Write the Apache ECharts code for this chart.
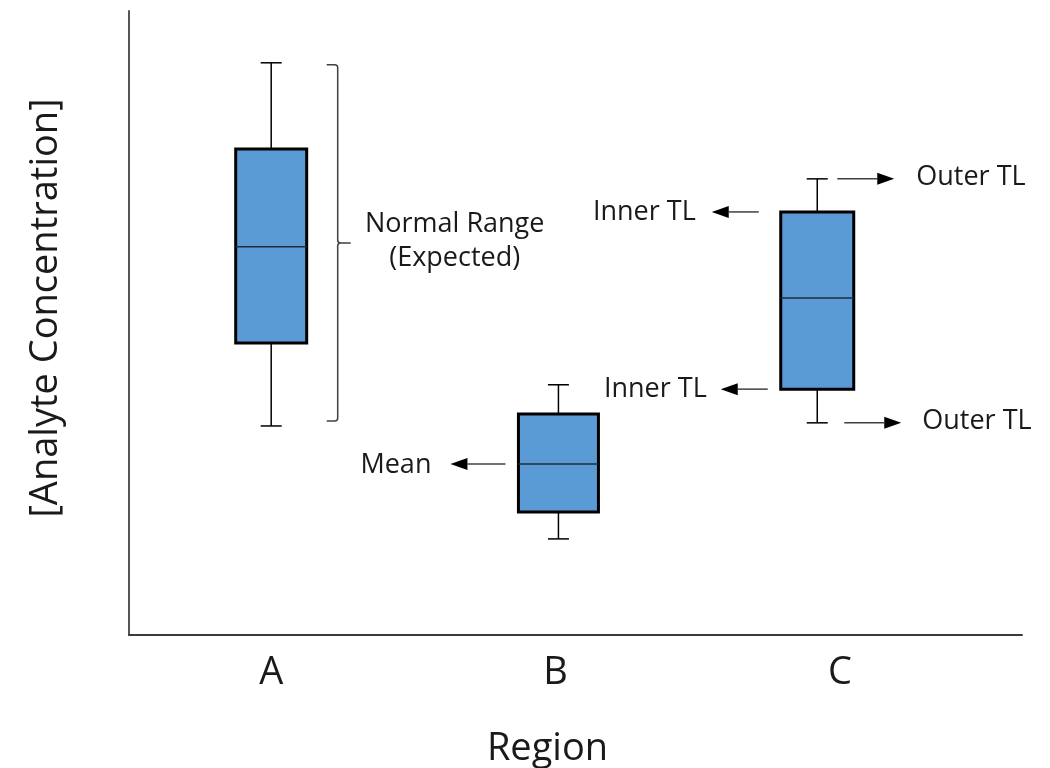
<!DOCTYPE html>
<html>
<head>
<meta charset="utf-8">
<script src="https://cdn.jsdelivr.net/npm/echarts@6/dist/echarts.min.js"></script>
<style>
  html, body { margin: 0; padding: 0; background: #ffffff; }
  #chart { width: 1050px; height: 768px; }
</style>
</head>
<body>
<div id="chart"></div>
<script>
// ---------------- DATA ----------------
const categories = ['A', 'B', 'C'];
const categoryPositions = [1, 2, 3];          // where the category labels sit on the x axis
const boxPositions = [1, 2.01, 2.92];          // where each box sits on the x axis
const whiskerMin = [33.5, 15.4, 34.0];
const q1Values   = [46.8, 19.7, 39.4];
const medians    = [62.2, 27.4, 54.0];
const q3Values   = [77.9, 35.4, 67.8];
const whiskerMax = [91.7, 40.1, 73.1];

const xAxisTitle = 'Region';
const yAxisTitle = '[Analyte Concentration]';
const bracketText = ['Normal Range', '(Expected)'];
const meanText = 'Mean';
const innerText = 'Inner TL';
const outerText = 'Outer TL';

// ---------------- STYLE ----------------
const FONT = '"Open Sans", "Noto Sans", sans-serif';
const BOX_FILL = '#5B9BD5';
const BOX_WIDTHS = [71, 80, 73];
const CAP_WIDTH = 21;
const ANNOT_FONT_SIZE = 27;

const boxData = categories.map((c, i) => [boxPositions[i], whiskerMin[i], q1Values[i], medians[i], q3Values[i], whiskerMax[i]]);

function arrow(x1, y, x2, children) {
  const dir = x2 > x1 ? 1 : -1;
  const headLen = 17, headHalf = 6;
  children.push({
    type: 'line',
    shape: { x1: x1, y1: y, x2: x2 - dir * headLen, y2: y },
    style: { stroke: '#404040', lineWidth: 1.5 }
  });
  children.push({
    type: 'polygon',
    shape: { points: [[x2, y], [x2 - dir * headLen, y - headHalf], [x2 - dir * headLen, y + headHalf]] },
    style: { fill: '#000' }
  });
}
function label(text, x, y, align, children) {
  children.push({
    type: 'text',
    style: { text: text, x: x, y: y, align: align, verticalAlign: 'middle',
             font: 'normal ' + ANNOT_FONT_SIZE + 'px ' + FONT, fill: '#1a1a1a' }
  });
}

const chart = echarts.init(document.getElementById('chart'), null, { renderer: 'canvas' });

const option = {
  animation: false,
  backgroundColor: '#ffffff',
  grid: { left: 129, right: 28, top: 11, bottom: 133, containLabel: false, outerBoundsMode: 'none' },
  xAxis: {
    type: 'value',
    min: 0.5,
    max: 3.64,
    name: xAxisTitle,
    nameLocation: 'middle',
    nameGap: 95,
    nameTextStyle: { fontFamily: FONT, fontSize: 38, color: '#1a1a1a', padding: [0, 56, 0, 0] },
    axisLine: { show: true, lineStyle: { color: '#3a3a3a', width: 2 } },
    axisTick: { show: false },
    splitLine: { show: false },
    axisLabel: {
      customValues: categoryPositions,
      formatter: function (v) {
        const idx = categoryPositions.indexOf(v);
        return idx >= 0 ? categories[idx] : '';
      },
      margin: 19,
      fontFamily: FONT,
      fontSize: 38,
      color: '#1a1a1a'
    }
  },
  yAxis: {
    type: 'value',
    min: 0,
    max: 100,
    name: yAxisTitle,
    nameLocation: 'middle',
    nameRotate: 90,
    nameGap: 64,
    nameTextStyle: { fontFamily: FONT, fontSize: 38, color: '#1a1a1a', padding: [0, 0, 0, 30] },
    axisLine: { show: true, lineStyle: { color: '#555555', width: 2 } },
    axisTick: { show: false },
    axisLabel: { show: false },
    splitLine: { show: false }
  },
  series: [
    {
      type: 'custom',
      name: 'boxes',
      data: boxData,
      encode: { x: 0, y: [1, 2, 3, 4, 5] },
      renderItem: function (params, api) {
        const x = api.value(0);
        const pMin = api.coord([x, api.value(1)]);
        const pQ1 = api.coord([x, api.value(2)]);
        const pMed = api.coord([x, api.value(3)]);
        const pQ3 = api.coord([x, api.value(4)]);
        const pMax = api.coord([x, api.value(5)]);
        const cx = pMin[0];
        const w = BOX_WIDTHS[params.dataIndex];
        const ws = { stroke: '#000', lineWidth: 1.5 };
        return {
          type: 'group',
          children: [
            { type: 'line', shape: { x1: cx, y1: pQ3[1], x2: cx, y2: pMax[1] }, style: ws },
            { type: 'line', shape: { x1: cx - CAP_WIDTH / 2, y1: pMax[1], x2: cx + CAP_WIDTH / 2, y2: pMax[1] }, style: ws },
            { type: 'line', shape: { x1: cx, y1: pQ1[1], x2: cx, y2: pMin[1] }, style: ws },
            { type: 'line', shape: { x1: cx - CAP_WIDTH / 2, y1: pMin[1], x2: cx + CAP_WIDTH / 2, y2: pMin[1] }, style: ws },
            { type: 'rect', shape: { x: cx - w / 2, y: pQ3[1], width: w, height: pQ1[1] - pQ3[1] },
              style: { fill: BOX_FILL, stroke: '#000', lineWidth: 3 } },
            { type: 'line', shape: { x1: cx - w / 2, y1: pMed[1], x2: cx + w / 2, y2: pMed[1] },
              style: { stroke: '#1f2d3a', lineWidth: 1.5 } }
          ]
        };
      },
      z: 2
    },
    {
      type: 'custom',
      name: 'annotations',
      data: boxData,
      encode: { x: 0, y: [1, 2, 3, 4, 5] },
      silent: true,
      renderItem: function (params, api) {
        const i = params.dataIndex;
        const x = api.value(0);
        const pMin = api.coord([x, api.value(1)]);
        const pQ1 = api.coord([x, api.value(2)]);
        const pMed = api.coord([x, api.value(3)]);
        const pQ3 = api.coord([x, api.value(4)]);
        const pMax = api.coord([x, api.value(5)]);
        const cx = pMin[0];
        const w = BOX_WIDTHS[i];
        const left = cx - w / 2, right = cx + w / 2;
        const ch = [];
        if (i === 0) {
          const bx = right + 31;
          const t = pMax[1] + 2, b = pMin[1] - 5, m = (t + b) / 2;
          const path = 'M' + (bx - 11) + ',' + t + ' L' + (bx - 3) + ',' + t + ' Q' + bx + ',' + t + ' ' + bx + ',' + (t + 3) +
            ' L' + bx + ',' + (m - 3) + ' Q' + bx + ',' + m + ' ' + (bx + 3) + ',' + m + ' L' + (bx + 13) + ',' + m +
            ' M' + (bx + 3) + ',' + m + ' Q' + bx + ',' + m + ' ' + bx + ',' + (m + 3) +
            ' L' + bx + ',' + (b - 3) + ' Q' + bx + ',' + b + ' ' + (bx - 3) + ',' + b + ' L' + (bx - 11) + ',' + b;
          ch.push({ type: 'path', shape: { pathData: path }, style: { stroke: '#404040', lineWidth: 1.5, fill: null } });
          label(bracketText[0], bx + 117, m - 19, 'center', ch);
          label(bracketText[1], bx + 117, m + 15, 'center', ch);
        } else if (i === 1) {
          arrow(left - 13, pMed[1], left - 68, ch);
          label(meanText, left - 87, pMed[1] + 1, 'right', ch);
        } else if (i === 2) {
          arrow(left - 22, pQ3[1], left - 69, ch);
          label(innerText, left - 85, pQ3[1], 'right', ch);
          arrow(left - 13, pQ1[1], left - 60, ch);
          label(innerText, left - 74, pQ1[1], 'right', ch);
          arrow(cx + 20, pMax[1], cx + 77, ch);
          label(outerText, cx + 99, pMax[1] - 2, 'left', ch);
          arrow(cx + 27, pMin[1], cx + 84, ch);
          label(outerText, cx + 105, pMin[1] - 2, 'left', ch);
        }
        return { type: 'group', children: ch };
      },
      z: 3
    }
  ]
};

chart.setOption(option);
</script>
</body>
</html>
